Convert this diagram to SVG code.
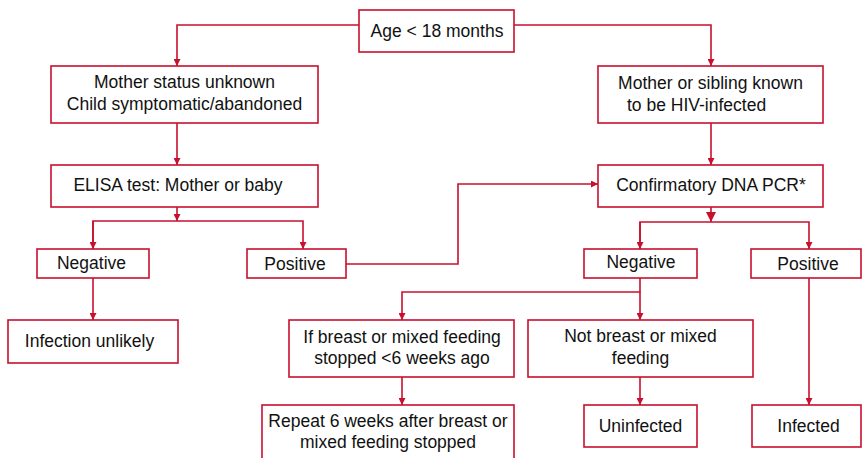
<svg xmlns="http://www.w3.org/2000/svg" width="862" height="458" viewBox="0 0 862 458">
<defs>
<style>
.box{fill:#fff;stroke:#c8102e;stroke-width:1.6}
.ln{fill:none;stroke:#c8102e;stroke-width:1.6}
text{font-family:"Liberation Sans",Arial,sans-serif;font-size:17.5px;fill:#111;text-anchor:middle}
</style>
<marker id="ah" viewBox="0 0 10 10" refX="10" refY="5" markerWidth="7" markerHeight="7" markerUnits="userSpaceOnUse" orient="auto">
<path d="M0,0 L10,5 L0,10 z" fill="#c8102e"/>
</marker>
<marker id="ahb" viewBox="0 0 10 10" refX="10" refY="5" markerWidth="10" markerHeight="10" markerUnits="userSpaceOnUse" orient="auto">
<path d="M0,0 L10,5 L0,10 z" fill="#c8102e"/>
</marker>
</defs>
<rect width="862" height="458" fill="#fff"/>
<g id="connectors">
<path class="ln" d="M359,25 H177 V66" marker-end="url(#ah)"/>
<path class="ln" d="M514,25 H711 V66" marker-end="url(#ah)"/>
<path class="ln" d="M177,123 V165" marker-end="url(#ah)"/>
<path class="ln" d="M711,123 V165" marker-end="url(#ah)"/>
<path class="ln" d="M177,207 V221" marker-end="url(#ah)"/>
<path class="ln" d="M93,249 V221 H303 V249" marker-end="url(#ah)"/>
<path class="ln" d="M93,221 V249" marker-end="url(#ah)"/>
<path class="ln" d="M93,278 V320" marker-end="url(#ah)"/>
<path class="ln" d="M346,264 H458 V184 H598" marker-end="url(#ah)"/>
<path class="ln" d="M711,207 V222" marker-end="url(#ahb)"/>
<path class="ln" d="M640,249 V222 H809 V249" marker-end="url(#ah)"/>
<path class="ln" d="M640,222 V249" marker-end="url(#ah)"/>
<path class="ln" d="M640,278 V292 H402 V320" marker-end="url(#ah)"/>
<path class="ln" d="M640,292 V320" marker-end="url(#ah)"/>
<path class="ln" d="M402,377 V405" marker-end="url(#ah)"/>
<path class="ln" d="M640,377 V405" marker-end="url(#ah)"/>
<path class="ln" d="M809,278 V405" marker-end="url(#ah)"/>
</g>
<g id="age"><rect class="box" x="359" y="10" width="155" height="42"/><text x="437" y="37">Age &lt; 18 months</text></g>
<g id="mother-unknown"><rect class="box" x="51" y="66" width="267" height="57"/><text x="184.5" y="88">Mother status unknown</text><text x="184.5" y="110">Child symptomatic/abandoned</text></g>
<g id="mother-known"><rect class="box" x="598" y="66" width="225" height="57"/><text x="710.5" y="89">Mother or sibling known</text><text x="627" y="111" style="text-anchor:start">to be HIV-infected</text></g>
<g id="elisa"><rect class="box" x="51" y="165" width="267" height="42"/><text x="178" y="191">ELISA test: Mother or baby</text></g>
<g id="pcr"><rect class="box" x="598" y="165" width="225" height="42"/><text x="711" y="191">Confirmatory DNA PCR*</text></g>
<g id="neg1"><rect class="box" x="37" y="249" width="112" height="29"/><text x="91.5" y="269">Negative</text></g>
<g id="pos1"><rect class="box" x="247" y="249" width="99" height="29"/><text x="295" y="270">Positive</text></g>
<g id="neg2"><rect class="box" x="584" y="249" width="113" height="29"/><text x="641" y="268">Negative</text></g>
<g id="pos2"><rect class="box" x="751" y="249" width="110" height="29"/><text x="808" y="270">Positive</text></g>
<g id="unlikely"><rect class="box" x="8" y="320" width="170" height="43"/><text x="89.5" y="347">Infection unlikely</text></g>
<g id="if-breast"><rect class="box" x="289" y="320" width="225" height="57"/><text x="402" y="343">If breast or mixed feeding</text><text x="402" y="364">stopped &lt;6 weeks ago</text></g>
<g id="not-breast"><rect class="box" x="528" y="320" width="225" height="57"/><text x="640.5" y="342">Not breast or mixed</text><text x="640.5" y="364">feeding</text></g>
<g id="repeat"><rect class="box" x="262" y="405" width="252" height="60"/><text x="388" y="427">Repeat 6 weeks after breast or</text><text x="388" y="448">mixed feeding stopped</text></g>
<g id="uninfected"><rect class="box" x="584" y="405" width="113" height="42"/><text x="640.5" y="432">Uninfected</text></g>
<g id="infected"><rect class="box" x="752" y="405" width="109" height="42"/><text x="808.5" y="432">Infected</text></g>
</svg>
